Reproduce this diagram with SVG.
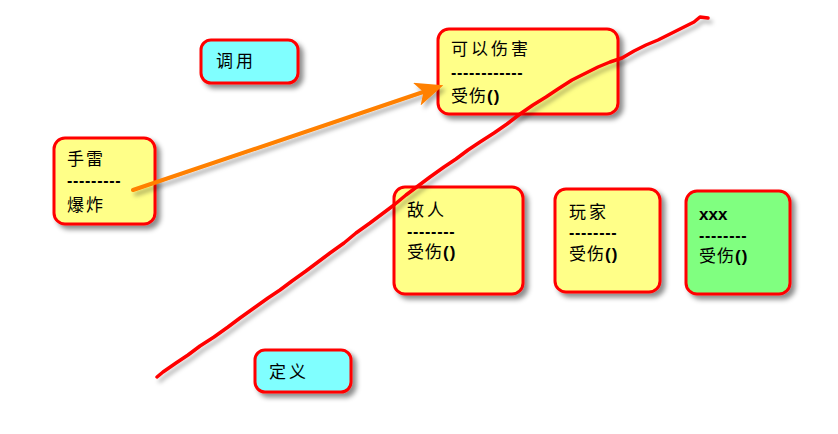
<svg xmlns="http://www.w3.org/2000/svg" width="838" height="434" viewBox="0 0 838 434">
<defs>
<filter id="sh" x="-20%" y="-20%" width="150%" height="150%">
<feDropShadow dx="4" dy="4" stdDeviation="2.5" flood-color="#000" flood-opacity="0.45"/>
</filter>
<filter id="lsh" x="-10%" y="-10%" width="130%" height="130%">
<feDropShadow dx="3" dy="4" stdDeviation="2" flood-color="#000" flood-opacity="0.3"/>
</filter>
<marker id="ah" viewBox="0 0 10 10" refX="8" refY="5" markerWidth="7" markerHeight="6" orient="auto" markerUnits="strokeWidth" preserveAspectRatio="none">
<path d="M0,0 L10,5 L0,10 L2.5,5 z" fill="#FF8000"/>
</marker>
</defs>
<style>
.box{stroke:#FF0000;stroke-width:3;filter:url(#sh)}
.y{fill:#FFFF88}
.c{fill:#80FFFF}
.g{fill:#80FF80}
text{font-family:"Noto Sans CJK SC","Liberation Sans",sans-serif;font-size:17px;fill:#000}
.d{font-family:"Liberation Sans",sans-serif;font-weight:bold;font-size:16px;letter-spacing:0.7px}
.b{font-family:"Liberation Sans",sans-serif;font-weight:bold}
</style>
<rect width="838" height="434" fill="#fff"/>
<g id="n-diaoyong"><rect class="box c" x="201" y="40" width="97" height="43" rx="10"/><text x="216" y="67" letter-spacing="3">调用</text></g>
<g id="n-dingyi"><rect class="box c" x="255" y="350" width="96" height="42" rx="10"/><text x="269" y="378" letter-spacing="3">定义</text></g>
<g id="n-shoulei"><rect class="box y" x="54" y="138" width="101" height="86" rx="11"/><text x="67" y="165" letter-spacing="2">手雷</text><text class="d" x="67" y="186">---------</text><text x="67" y="211" letter-spacing="2">爆炸</text></g>
<g id="n-kyshanghai"><rect class="box y" x="438" y="29" width="180" height="85" rx="11"/><text x="451" y="55" letter-spacing="3">可以伤害</text><text class="d" x="451" y="78">------------</text><text x="451" y="102" letter-spacing="1">受伤<tspan class="b">()</tspan></text></g>
<g id="n-diren"><rect class="box y" x="394" y="187" width="129" height="107" rx="11"/><text x="407" y="216" letter-spacing="3">敌人</text><text class="d" x="407" y="237">--------</text><text x="407" y="258" letter-spacing="1">受伤<tspan class="b">()</tspan></text></g>
<g id="n-wanjia"><rect class="box y" x="555" y="189" width="105" height="103" rx="11"/><text x="569" y="218" letter-spacing="3">玩家</text><text class="d" x="569" y="238">--------</text><text x="569" y="260" letter-spacing="1">受伤<tspan class="b">()</tspan></text></g>
<g id="n-xxx"><rect class="box g" x="686" y="191" width="104" height="103" rx="11"/><text class="b" x="699" y="220">xxx</text><text class="d" x="699" y="241">--------</text><text x="699" y="262" letter-spacing="1">受伤<tspan class="b">()</tspan></text></g>
<g id="connectors">
<path d="M133,190 L438,87" fill="none" stroke="#FF8000" stroke-width="4" stroke-linecap="round" marker-end="url(#ah)" filter="url(#lsh)"/>
<path d="M157,377 L163,372 L176,363 L188,355 L200,346 L214,337 L228,327 L240,318 L254,308 L268,298 L280,290 L292,281 L306,271 L318,262 L330,253 L344,243 L356,233 L370,223 L382,214 L394,205 L406,195 L418,186 L430,177 L444,167 L456,159 L468,150 L480,142 L494,133 L507,124 L520,114 L533,105 L546,97 L558,89 L572,80 L586,73 L598,67 L610,62 L622,58 L634,51 L646,45 L658,40 L670,34 L682,28 L694,22 L700,17 L708,18" fill="none" stroke="#FF0000" stroke-width="3.5" stroke-linecap="round" stroke-linejoin="round" filter="url(#lsh)"/>
</g>
</svg>
